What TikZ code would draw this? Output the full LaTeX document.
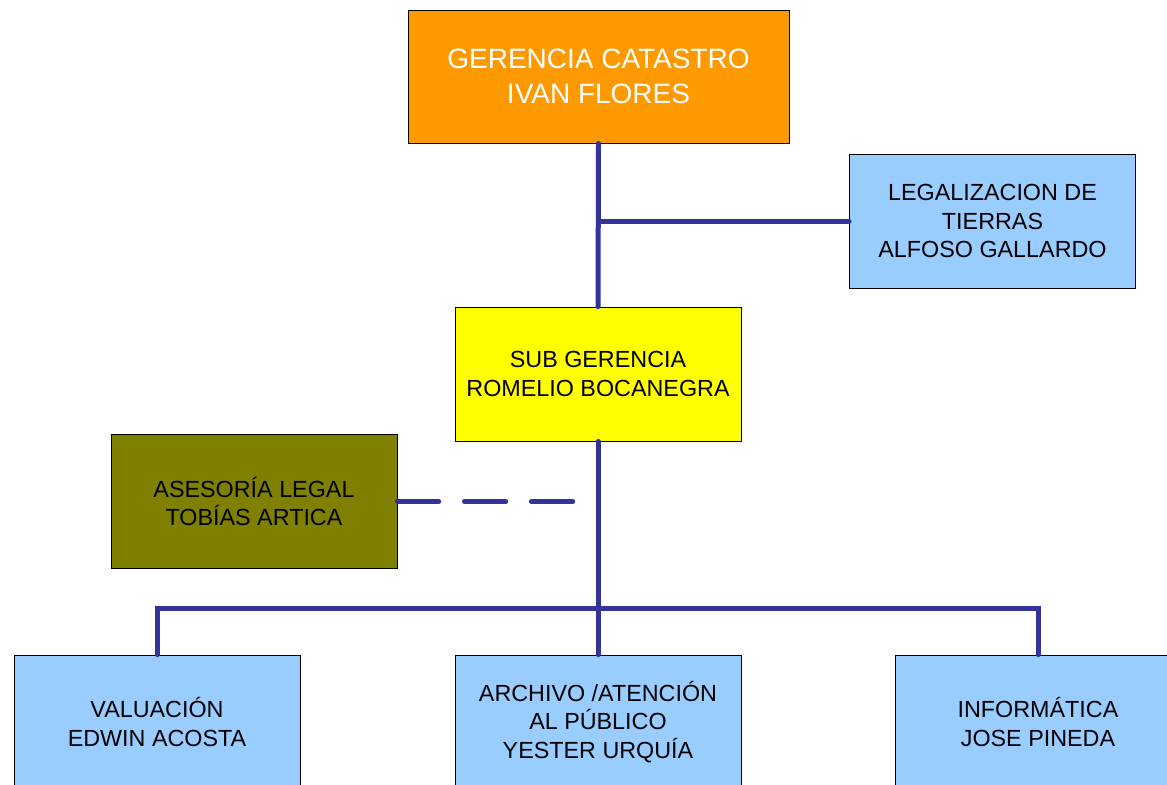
\documentclass[tikz,border=0pt]{standalone}
\usepackage{fontspec}
\setmainfont{Liberation Sans}
\usepackage{tikz}

\definecolor{gerorange}{HTML}{FF9900}
\definecolor{celeste}{HTML}{99CCFF}
\definecolor{amarillo}{HTML}{FFFF00}
\definecolor{oliva}{HTML}{808000}
\definecolor{linea}{HTML}{333399}

\begin{document}
\begin{tikzpicture}
[x=0.75pt,y=-0.75pt,%%%%%%%%%%%%%%%%%%%%%%%%%%%%%%
box/.style={rectangle,draw=black,line width=0.6pt,minimum width=214.5pt,minimum height=100.5pt,
 align=center,font=\fontsize{17.5}{21.5}\selectfont,inner sep=0pt},
topbox/.style={box,minimum width=285.75pt,minimum height=99.75pt,
 font=\fontsize{21}{26.25}\selectfont,text=white},
conn/.style={draw=linea,line width=3.75pt,line cap=round},
]%%%%%%%%%%%%%%%%%%%%%%%%%%%%%%

\useasboundingbox (0,0) rectangle (1167,785);
\clip (0,0) rectangle (1167,785);

\node[topbox,fill=gerorange] (ger) at (598.5,76.5){GERENCIA CATASTRO\\IVAN FLORES};
\node[box,fill=celeste] (leg) at (992.5,221){LEGALIZACION DE\\TIERRAS\\ALFOSO GALLARDO};
\node[box,fill=amarillo] (sub) at (598,374){SUB GERENCIA\\ROMELIO BOCANEGRA};
\node[box,fill=oliva] (ase) at (254,501.5){ASESORÍA LEGAL\\TOBÍAS ARTICA};

\node[box,fill=celeste] (val) at (157,722){VALUACIÓN\\EDWIN ACOSTA};
\node[box,fill=celeste] (arch) at (598,722){ARCHIVO /ATENCIÓN\\AL PÚBLICO\\YESTER URQUÍA};
\node[box,fill=celeste] (inf) at (1038,722){INFORMÁTICA\\JOSE PINEDA};

\coordinate (dend) at (573,501.5);
\coordinate (bar) at (598,608);

\draw[conn] (ger.south) -- (sub.north);
\draw[conn] (ger.south |- leg.west) -- (leg.west);
\draw[conn,dash pattern=on 31pt off 19.25pt] (ase.east) -- (dend);
\draw[conn] (sub.south) -- (arch.north);
\draw[conn] (val.north) |- (bar) -| (inf.north);
\end{tikzpicture}
\end{document}
